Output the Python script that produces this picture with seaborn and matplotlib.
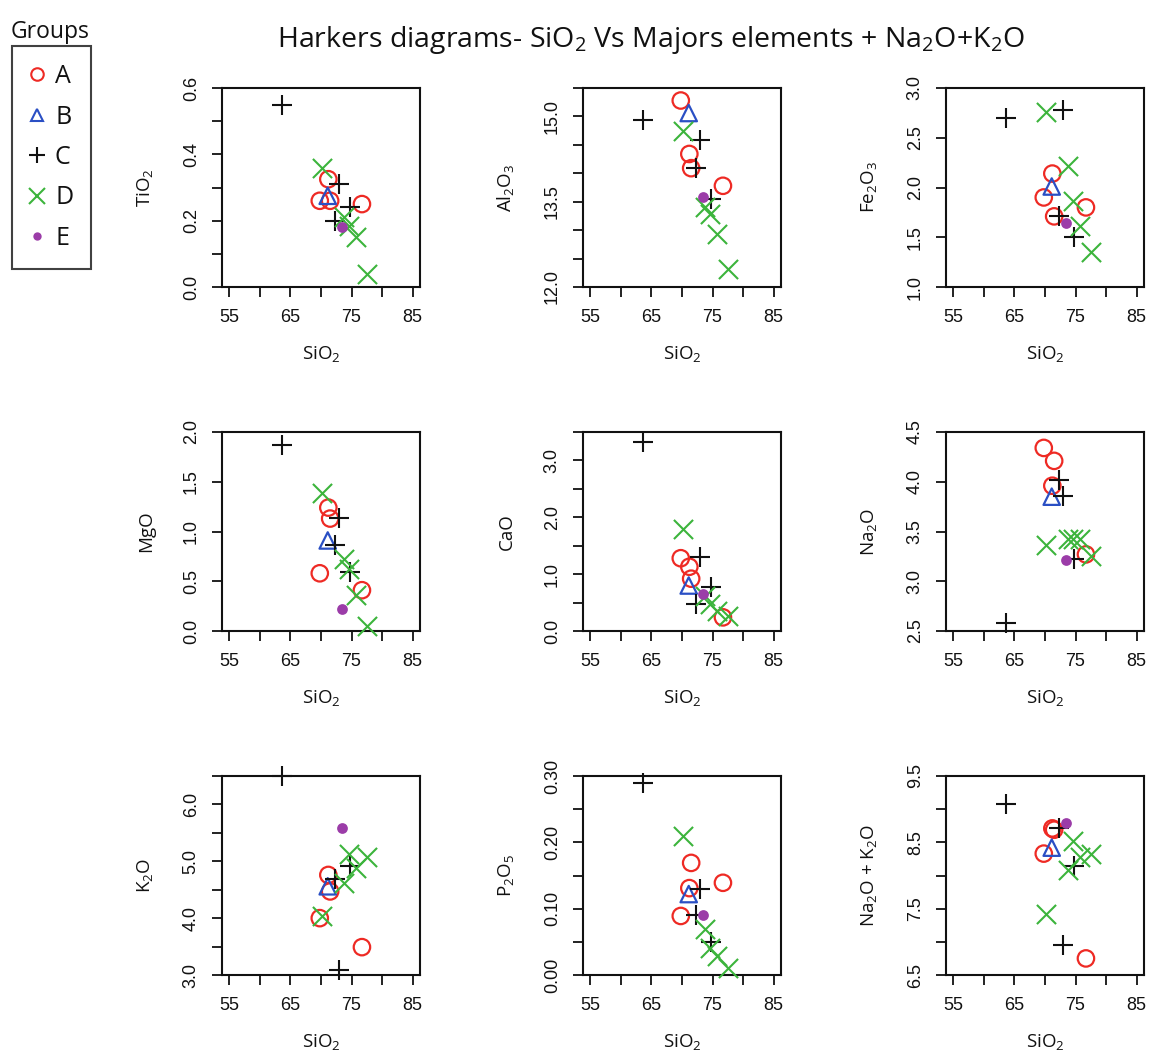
import matplotlib
matplotlib.use('Agg')
import matplotlib.pyplot as plt
from matplotlib.lines import Line2D
from matplotlib.ticker import MultipleLocator, FuncFormatter
import numpy as np
import pandas as pd
import seaborn as sns

# Samples: 4 x A, 1 x B, 4 x C, 5 x D, 1 x E
groups = ['A', 'A', 'A', 'A', 'B', 'C', 'C', 'C', 'C', 'D', 'D', 'D', 'D', 'D', 'E']
sio2 = [69.8, 71.2, 71.5, 76.7, 71.1, 63.6, 72.3, 72.9, 74.7, 70.2, 73.7, 74.5, 75.8, 77.5, 73.4]

tio2 = [0.26, 0.325, 0.26, 0.25, 0.275, 0.55, 0.20, 0.31, 0.24, 0.36, 0.21, 0.185, 0.15, 0.04, 0.18]
al2o3 = [15.28, 14.34, 14.09, 13.78, 15.06, 14.94, 14.09, 14.59, 13.55, 14.74, 13.41, 13.28, 12.94, 12.32, 13.59]
fe2o3 = [1.90, 2.14, 1.71, 1.80, 2.01, 2.70, 1.71, 2.78, 1.50, 2.76, 2.22, 1.86, 1.61, 1.35, 1.64]
mgo = [0.58, 1.24, 1.13, 0.41, 0.91, 1.87, 0.86, 1.14, 0.59, 1.39, 0.72, 0.62, 0.36, 0.05, 0.22]
cao = [1.28, 1.13, 0.92, 0.24, 0.80, 3.32, 0.48, 1.31, 0.78, 1.79, 0.62, 0.47, 0.36, 0.27, 0.65]
na2o = [4.34, 3.96, 4.21, 3.27, 3.85, 2.58, 4.02, 3.86, 3.22, 3.36, 3.42, 3.42, 3.42, 3.25, 3.21]
k2o = [4.00, 4.76, 4.47, 3.49, 4.56, 6.50, 4.68, 3.08, 4.91, 4.04, 4.62, 5.12, 4.88, 5.08, 5.59]
p2o5 = [0.089, 0.131, 0.169, 0.139, 0.122, 0.29, 0.09, 0.13, 0.05, 0.21, 0.069, 0.04, 0.029, 0.01, 0.091]
alkali = [8.33, 8.71, 8.69, 6.75, 8.42, 9.08, 8.72, 6.95, 8.14, 7.42, 8.08, 8.52, 8.28, 8.33, 8.79]

group_order = ['A', 'B', 'C', 'D', 'E']
group_colors = {'A': '#ee2a24', 'B': '#2a4fc4', 'C': '#111111', 'D': '#3cb43c', 'E': '#9b3ca8'}
group_markers = {'A': 'o', 'B': '^', 'C': '+', 'D': 'x', 'E': 'o'}

# (values, y label, ylim, tick step, label every n ticks, format)
panels = [
    (tio2, r'TiO$_2$', (0, 0.6), 0.1, 2, '{:.1f}'),
    (al2o3, r'Al$_2$O$_3$', (12, 15.5), 0.5, 3, '{:.1f}'),
    (fe2o3, r'Fe$_2$O$_3$', (1, 3), 0.5, 1, '{:.1f}'),
    (mgo, 'MgO', (0, 2), 0.5, 1, '{:.1f}'),
    (cao, 'CaO', (0, 3.5), 0.5, 2, '{:.1f}'),
    (na2o, r'Na$_2$O', (2.5, 4.5), 0.5, 1, '{:.1f}'),
    (k2o, r'K$_2$O', (3, 6.5), 0.5, 2, '{:.1f}'),
    (p2o5, r'P$_2$O$_5$', (0, 0.3), 0.05, 2, '{:.2f}'),
    (alkali, r'Na$_2$O + K$_2$O', (6.5, 9.5), 0.5, 2, '{:.1f}'),
]

sns.set_style('ticks')
plt.rcParams['font.family'] = ['Open Sans', 'DejaVu Sans']
plt.rcParams['mathtext.fontset'] = 'custom'
plt.rcParams['mathtext.rm'] = 'Open Sans'
plt.rcParams['mathtext.it'] = 'Open Sans'
plt.rcParams['text.color'] = '#111111'
plt.rcParams['axes.labelcolor'] = '#111111'

W, H = 1154, 1063
fig = plt.figure(figsize=(W / 100, H / 100), dpi=100)

col_left = [222, 583, 946]
row_top = [88, 432, 776]
aw, ah = 198, 199


def make_fmt(lo, step, every, fmt):
    def f(v, pos):
        k = int(round((v - lo) / step))
        return fmt.format(v) if k % every == 0 else ''
    return f


for i, (vals, ylab, ylim, step, every, fmt) in enumerate(panels):
    r, c = divmod(i, 3)
    ax = fig.add_axes([col_left[c] / W, 1 - (row_top[r] + ah) / H, aw / W, ah / H])
    df = pd.DataFrame({'Group': groups, 'SiO2': sio2, 'value': vals})
    for g in group_order:
        sub = df[df['Group'] == g]
        col = group_colors[g]
        kws = dict(marker=group_markers[g], ax=ax, legend=False, clip_on=False, zorder=3)
        if g in ('A', 'B'):
            kws.update(s=140, facecolor='none', edgecolor=col, linewidth=1.6)
        elif g == 'E':
            kws.update(s=60, color=col, edgecolor=col, linewidth=0)
        else:
            kws.update(s=190, color=col, linewidth=1.5)
        sns.scatterplot(data=sub, x='SiO2', y='value', **kws)

    ax.set_xlim(53.8, 86.2)
    ax.set_ylim(*ylim)
    ax.xaxis.set_major_locator(MultipleLocator(5))
    ax.xaxis.set_major_formatter(FuncFormatter(make_fmt(55, 5, 2, '{:.0f}')))
    ax.set_yticks(np.arange(ylim[0], ylim[1] + step / 2, step))
    ax.yaxis.set_major_formatter(FuncFormatter(make_fmt(ylim[0], step, every, fmt)))
    ax.tick_params(axis='both', length=7, width=1.3, colors='#111111',
                   labelsize=13, pad=9)
    ax.tick_params(axis='y', labelrotation=90)
    for lab in ax.get_yticklabels():
        lab.set_va('center')
        lab.set_family('Liberation Sans')
    for lab in ax.get_xticklabels():
        lab.set_family('Liberation Sans')
    for sp in ax.spines.values():
        sp.set_visible(True)
        sp.set_linewidth(1.5)
        sp.set_color('#111111')
    ax.set_xlabel(r'SiO$_2$', fontsize=13.5, labelpad=13)
    ax.set_ylabel(ylab, fontsize=13.5, labelpad=20)

fig.suptitle(r'Harkers diagrams- SiO$_2$ Vs Majors elements + Na$_2$O+K$_2$O',
             x=651 / W, y=1 - 40 / H, va='center', fontsize=20.5)

handles = []
for g in group_order:
    col = group_colors[g]
    if g in ('A', 'B'):
        h = Line2D([], [], linestyle='none', marker=group_markers[g], markersize=9,
                   markerfacecolor='none', markeredgecolor=col, markeredgewidth=1.5)
    elif g == 'E':
        h = Line2D([], [], linestyle='none', marker='o', markersize=6,
                   color=col, markeredgewidth=0)
    else:
        h = Line2D([], [], linestyle='none', marker=group_markers[g], markersize=11,
                   color=col, markeredgewidth=1.5)
    handles.append(h)

leg = fig.legend(handles, group_order, loc='upper left',
                 bbox_to_anchor=(12 / W, 1 - 46 / H), frameon=True, fancybox=False,
                 edgecolor='#111111', fontsize=18, labelspacing=0.62,
                 handlelength=0.55, handletextpad=0.45, borderpad=0.72,
                 borderaxespad=0)
leg.get_frame().set_linewidth(1.5)
fig.text(50 / W, 1 - 32 / H, 'Groups', ha='center', va='center', fontsize=16.5)

fig.savefig('out.png', dpi=100)
